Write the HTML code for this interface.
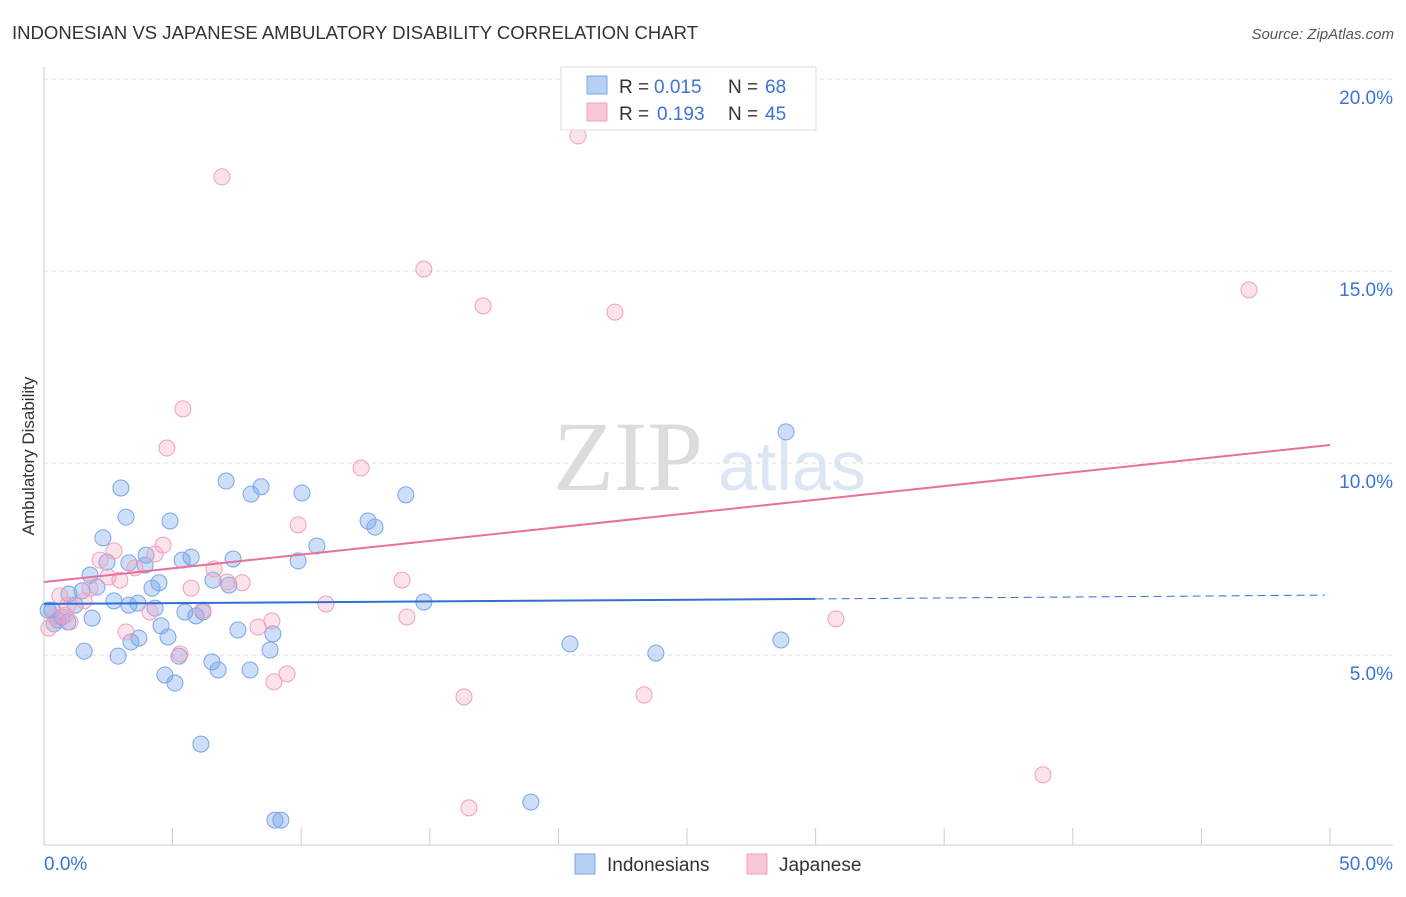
<!DOCTYPE html>
<html><head><meta charset="utf-8"><style>
body{margin:0;background:#fff;font-family:"Liberation Sans",sans-serif}
svg text{font-family:"Liberation Sans",sans-serif}
</style></head><body>
<svg id="chart" width="1406" height="892" xmlns="http://www.w3.org/2000/svg">
<text x="12" y="39" font-size="18.5" fill="#333" textLength="686">INDONESIAN VS JAPANESE AMBULATORY DISABILITY CORRELATION CHART</text>
<text x="1394" y="39" font-size="15" fill="#555" font-style="italic" text-anchor="end">Source: ZipAtlas.com</text>
<text x="553" y="490" font-size="100" fill="#dcdcdc" style="font-family:'Liberation Serif',serif">ZIP</text>
<text x="718" y="490" font-size="70" fill="#dce6f5">atlas</text>
<g id="grid"></g>
<g id="axes"></g>
<g id="marks"></g>
<text transform="translate(34,456) rotate(-90)" font-size="17" fill="#333" text-anchor="middle">Ambulatory Disability</text>
<g>
<rect x="561" y="67" width="255" height="63" fill="#fff" stroke="#ddd"/>
<rect x="587" y="76" width="20" height="18" fill="#b5cff5" stroke="#7aa6e6"/>
<text x="619" y="93" font-size="19" fill="#333">R =</text>
<text x="654" y="93" font-size="19" fill="#3b73d6">0.015</text>
<text x="728" y="93" font-size="19" fill="#333">N =</text>
<text x="765" y="93" font-size="19" fill="#3b73d6">68</text>
<rect x="587" y="103" width="20" height="18" fill="#f9c8d7" stroke="#f0a0bc"/>
<text x="619" y="120" font-size="19" fill="#333">R =</text>
<text x="657" y="120" font-size="19" fill="#3b73d6">0.193</text>
<text x="728" y="120" font-size="19" fill="#333">N =</text>
<text x="765" y="120" font-size="19" fill="#3b73d6">45</text>
</g>
<g>
<rect x="575" y="854" width="20" height="20" fill="#b5cff5" stroke="#7aa6e6"/>
<text x="607" y="871" font-size="19" fill="#333">Indonesians</text>
<rect x="747" y="854" width="20" height="20" fill="#f9c8d7" stroke="#f0a0bc"/>
<text x="779" y="871" font-size="19" fill="#333">Japanese</text>
</g>
</svg>
<script>
const yTicks=[5,10,15,20];
const yTickLabels=["5.0%","10.0%","15.0%","20.0%"];
const xTickLabels=["0.0%","50.0%"];
const indoX=[28.85,2.99,7.08,8.44,8.05,10.03,14.07,3.19,4.90,12.60,12.87,2.29,10.61,3.97,5.72,5.37,7.35,9.88,3.93,3.30,2.45,1.79,4.47,4.20,6.57,7.19,2.06,0.97,1.48,1.21,2.72,3.65,3.30,4.32,5.48,6.18,5.91,14.77,0.31,0.54,0.93,0.70,0.39,1.87,4.55,7.54,8.90,4.82,3.69,3.38,20.45,28.65,1.56,2.88,8.79,23.79,5.25,6.53,6.77,8.01,4.70,5.09,6.10,18.93,8.98,9.21,0.16];
const indoY=[10.81,9.35,9.53,9.38,9.19,9.22,9.17,8.59,8.49,8.49,8.33,8.05,7.84,7.60,7.55,7.47,7.50,7.45,7.34,7.40,7.42,7.08,6.88,6.74,6.95,6.82,6.77,6.59,6.67,6.30,6.41,6.35,6.30,6.22,6.12,6.12,6.02,6.38,6.17,5.91,5.86,5.99,5.81,5.96,5.76,5.65,5.55,5.47,5.44,5.34,5.29,5.39,5.10,4.97,5.13,5.05,4.97,4.82,4.61,4.61,4.48,4.27,2.68,1.17,0.70,0.70,6.17];
const japX=[20.76,6.92,14.77,17.07,22.20,46.85,5.40,4.78,12.33,9.88,2.72,2.18,4.32,4.63,6.61,2.95,5.72,7.12,7.70,13.92,3.54,2.49,1.79,0.62,1.56,10.96,0.93,4.12,6.18,0.43,1.01,0.19,14.11,30.79,8.86,8.32,3.19,5.29,9.45,8.94,16.33,23.33,38.84,16.52,0.82];
const japY=[18.52,17.45,15.05,14.09,13.93,14.51,11.41,10.39,9.87,8.39,7.71,7.47,7.63,7.86,7.24,6.95,6.74,6.90,6.88,6.95,7.27,7.03,6.74,6.54,6.41,6.33,6.30,6.12,6.17,5.99,5.86,5.70,5.99,5.94,5.89,5.73,5.60,5.03,4.51,4.30,3.91,3.96,1.88,1.02,6.04];
const indoTrend=[6.33,6.46,6.56]; // at x=0, 30, 49.8
const japTrend=[6.90,10.47]; // at x=0, 50
const NS="http://www.w3.org/2000/svg";
const X=v=>44+v*25.72, Y=v=>847-v*38.4;
function mk(tag,attrs,parent){const e=document.createElementNS(NS,tag);for(const k in attrs)e.setAttribute(k,attrs[k]);document.getElementById(parent).appendChild(e);return e;}
yTicks.forEach((t,i)=>{
 const g=mk('line',{x1:44,x2:1393,y1:Y(t),y2:Y(t),stroke:'#ddd','stroke-dasharray':'4 4'},'grid');
 
 
 const l=mk('text',{x:1393,y:Y(t)+25,'font-size':19,fill:'#3b73d6','text-anchor':'end'},'axes');l.textContent=yTickLabels[i];
 
 
});
let a=mk('line',{x1:44,x2:44,y1:67,y2:845,stroke:'#ccc'},'axes');


a=mk('line',{x1:44,x2:1393,y1:845,y2:845,stroke:'#ccc'},'axes');


for(let i=1;i<=10;i++){const t=mk('line',{x1:X(i*5),x2:X(i*5),y1:828,y2:845,stroke:'#ccc'},'axes');
 
 }
[[0,'start',44],[50,'end',1393]].forEach((d,i)=>{const t=mk('text',{x:d[2],y:870,'font-size':19,fill:'#3b73d6','text-anchor':d[1]},'axes');t.textContent=xTickLabels[i];
 
 });
indoX.forEach((x,i)=>{const c=mk('circle',{cx:X(x),cy:Y(indoY[i]),r:8,fill:'rgba(110,160,235,0.35)',stroke:'#7aa6e6','stroke-width':1},'marks');
 
 });
japX.forEach((x,i)=>{const c=mk('circle',{cx:X(x),cy:Y(japY[i]),r:8,fill:'rgba(245,160,190,0.3)',stroke:'#f0a0bc','stroke-width':1},'marks');
 
 });
let l=mk('line',{x1:X(0),y1:Y(indoTrend[0]),x2:X(30),y2:Y(indoTrend[1]),stroke:'#2f6fd6','stroke-width':2},'marks');


l=mk('line',{x1:X(30),y1:Y(indoTrend[1]),x2:X(49.8),y2:Y(indoTrend[2]),stroke:'#2f6fd6','stroke-width':1,'stroke-dasharray':'8 5'},'marks');


l=mk('line',{x1:X(0),y1:Y(japTrend[0]),x2:X(50),y2:Y(japTrend[1]),stroke:'#e8709a','stroke-width':2},'marks');


</script>
</body></html>
